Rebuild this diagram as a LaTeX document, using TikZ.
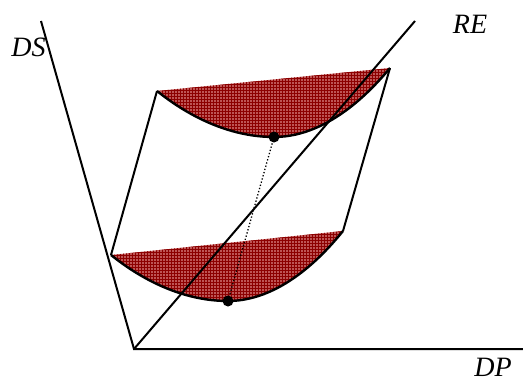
\documentclass[tikz,border=0pt]{standalone}
\usepackage{fontspec}
\setmainfont{Liberation Serif}
\begin{document}
\begin{tikzpicture}[x=1pt,y=-1pt,
  axisline/.style={line width=2pt},
  frameline/.style={line width=2pt, line join=miter},
  curveline/.style={line width=2.4pt},
  lbl/.style={font=\fontsize{28}{32}\selectfont\itshape, inner sep=0pt},
  hatchbase/.style={fill={rgb,255:red,190;green,85;blue,85}},
  hatchgrid/.style={draw={rgb,255:red,140;green,0;blue,0}, line width=0.8pt},
  pt/.style={circle, fill=black, inner sep=0pt, minimum size=11pt}]
\useasboundingbox (0,0) rectangle (523,383);
% coordinates
\coordinate (O) at (134,349);
\coordinate (DStop) at (41,21);
\coordinate (DPend) at (523,349);
\coordinate (REend) at (415,21);
\coordinate (LL) at (111,255);
\coordinate (LR) at (343,231);
\coordinate (LB) at (228,301);
\coordinate (UL) at (157,91);
\coordinate (UR) at (390,68);
\coordinate (UB) at (274,137);
% hatched regions
\begin{scope}
  \clip (LL) parabola bend (LB) (LR) -- cycle;
  \fill[hatchbase] (100,220) rectangle (360,310);
  \draw[hatchgrid, step=3pt] (100,220) grid (360,310);
\end{scope}
\begin{scope}
  \clip (UL) parabola bend (UB) (UR) -- cycle;
  \fill[hatchbase] (150,60) rectangle (400,145);
  \draw[hatchgrid, step=3pt] (150,60) grid (400,145);
\end{scope}
% axes
\draw[axisline] (DStop) -- (O) -- (DPend);
\draw[axisline] (O) -- (REend);
% frame
\draw[frameline] (LL) -- (UL);
\draw[frameline] (LR) -- (UR);
% curves
\draw[curveline] (LL) parabola bend (LB) (LR);
\draw[curveline] (UL) parabola bend (UB) (UR);
% dotted
\draw[line width=1.3pt, dotted] (UB) -- (LB);
\node[pt] (pu) at (UB) {};
\node[pt] (pl) at (LB) {};
% labels
\node[lbl] (ds) at (28.5,47) {DS};
\node[lbl] (re) at (470,24) {RE};
\node[lbl] (dp) at (493,367) {DP};
\end{tikzpicture}
\end{document}
